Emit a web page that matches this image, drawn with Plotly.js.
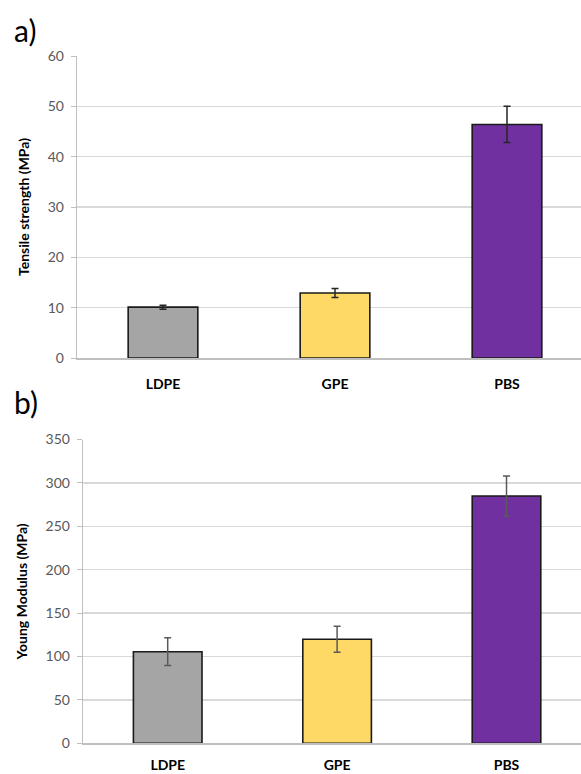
<!DOCTYPE html>
<html>
<head>
<meta charset="utf-8">
<script src="https://cdn.plot.ly/plotly-3.0.1.min.js"></script>
<style>
  html, body { margin: 0; padding: 0; background: #fff; overflow: hidden; }
  #chart { width: 581px; height: 774px; }
</style>
</head>
<body>
<div id="chart"></div>
<script>
// Mechanical properties of the three films
const materials = ["LDPE", "GPE", "PBS"];
const tensileStrength = [10.1, 12.9, 46.4];      // MPa
const tensileError = [0.4, 0.9, 3.6];
const youngModulus = [105.5, 119.8, 284.9];      // MPa
const youngError = [16, 15, 23];
const barColors = ["#a5a5a5", "#ffd966", "#7030a0"];

const W = 581, H = 774;
const FONT = "Lato, 'Open Sans', sans-serif";
const idx = materials.map((_, i) => i);

function barTrace(values, errors, xa, ya, errColor) {
  return {
    type: "bar",
    x: idx,
    y: values,
    xaxis: xa,
    yaxis: ya,
    width: 0.405,
    marker: {
      color: barColors,
      line: { color: "#1a1a1a", width: 1.6 }
    },
    error_y: {
      type: "data",
      array: errors,
      visible: true,
      color: errColor,
      thickness: 1.5,
      width: 3.5
    },
    hoverinfo: "skip",
    showlegend: false
  };
}

const yCommon = {
  showline: true,
  linecolor: "#bfbfbf",
  linewidth: 1.3,
  ticks: "outside",
  ticklen: 5,
  tickcolor: "#bfbfbf",
  tickwidth: 1,
  showgrid: true,
  gridcolor: "#d9d9d9",
  gridwidth: 1.3,
  zeroline: false,
  tickfont: { family: FONT, size: 14, color: "#595959" },
  ticklabelstandoff: 4,
  fixedrange: true
};

const xCommon = {
  tickmode: "array",
  tickvals: idx,
  ticktext: materials,
  showline: true,
  linecolor: "#bfbfbf",
  linewidth: 2,
  ticks: "",
  showgrid: false,
  zeroline: false,
  tickfont: { family: FONT, size: 14, color: "#000", weight: "bold" },
  fixedrange: true
};

const titleFont = { family: FONT, size: 14, color: "#000", weight: "bold" };

const layout = {
  width: W,
  height: H,
  margin: { l: 0, r: 0, t: 0, b: 0 },
  paper_bgcolor: "#fff",
  plot_bgcolor: "#fff",
  xaxis: Object.assign({}, xCommon, {
    domain: [77 / W, 1],
    range: [-0.5, -0.5 + (W - 77) / 172],
    ticklabelstandoff: 12,
    anchor: "y"
  }),
  yaxis: Object.assign({}, yCommon, {
    domain: [1 - 358 / H, 1 - 56 / H],
    range: [0, 60],
    dtick: 10,
    anchor: "x",
    title: { text: "Tensile strength (MPa)", font: titleFont, standoff: 14 }
  }),
  xaxis2: Object.assign({}, xCommon, {
    domain: [83 / W, 1],
    range: [-0.5, -0.5 + (W - 83) / 169.4],
    ticklabelstandoff: 8,
    anchor: "y2"
  }),
  yaxis2: Object.assign({}, yCommon, {
    domain: [1 - 743.3 / H, 1 - 439.5 / H],
    range: [0, 350],
    dtick: 50,
    anchor: "x2",
    title: { text: "Young Modulus (MPa)", font: titleFont, standoff: 14 }
  }),
  annotations: [
    { text: "a)", xref: "paper", yref: "paper", x: 12 / W, y: 1 - 10 / H,
      xanchor: "left", yanchor: "top", showarrow: false,
      font: { family: FONT, size: 30, color: "#000" } },
    { text: "b)", xref: "paper", yref: "paper", x: 12 / W, y: 1 - 382 / H,
      xanchor: "left", yanchor: "top", showarrow: false,
      font: { family: FONT, size: 30, color: "#000" } }
  ]
};

Plotly.newPlot("chart", [
  barTrace(tensileStrength, tensileError, "x", "y", "#262626"),
  barTrace(youngModulus, youngError, "x2", "y2", "#5a5a5a")
], layout, { staticPlot: true, displayModeBar: false });
</script>
</body>
</html>
